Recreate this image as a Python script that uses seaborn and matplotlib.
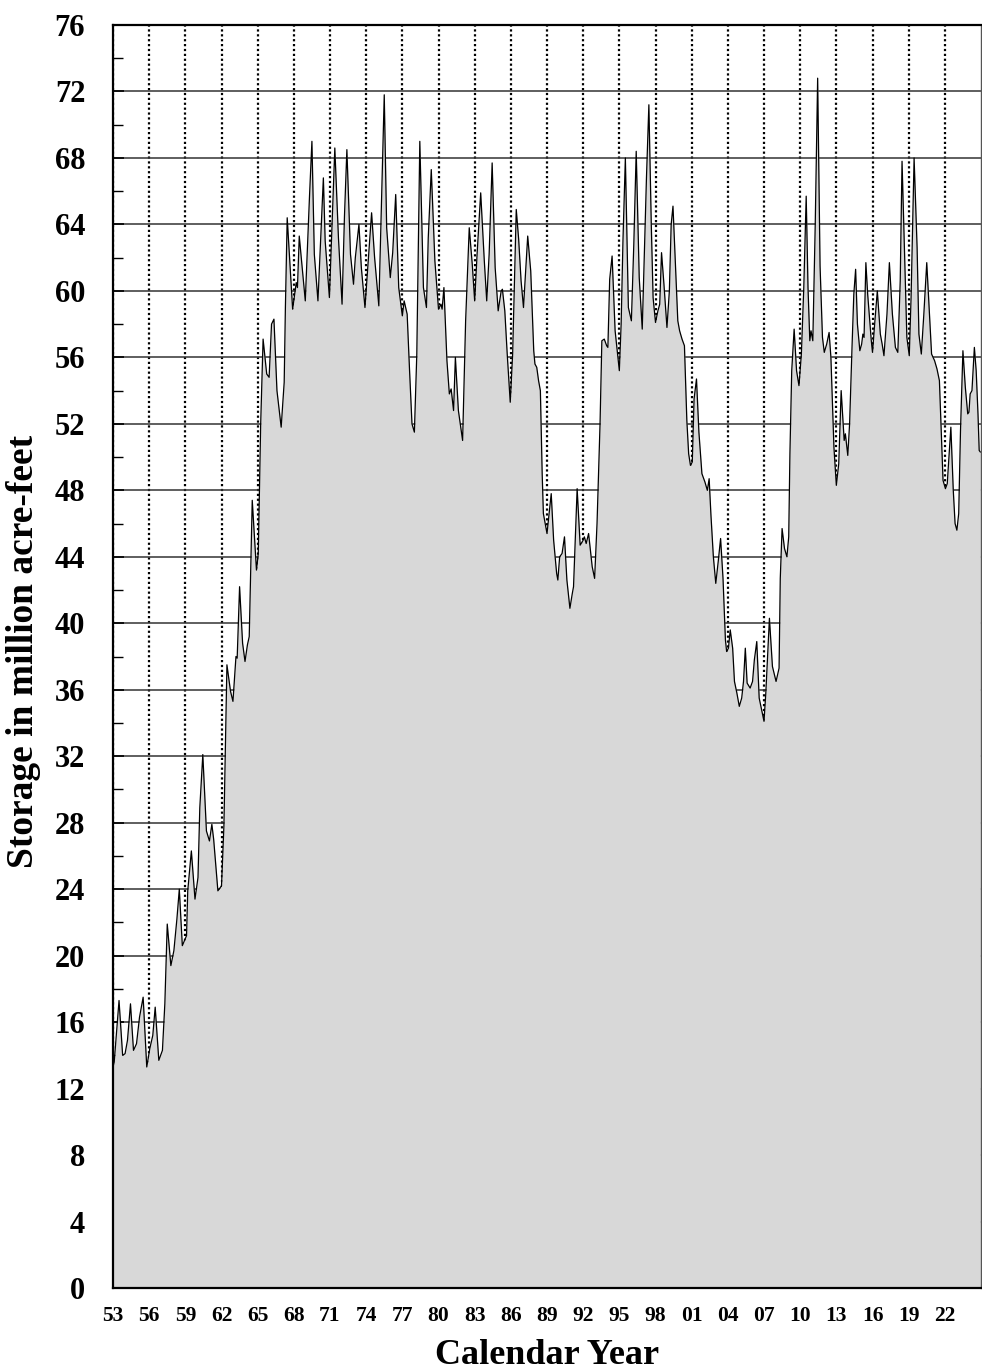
import numpy as np
import pandas as pd
import matplotlib
matplotlib.use('Agg')
import matplotlib.pyplot as plt
import matplotlib.ticker as mticker
import seaborn as sns

# storage readings (year as decimal, million acre-feet)
years = [1953.0, 1953.1, 1953.5, 1953.8, 1954.0, 1954.2, 1954.45, 1954.7, 1954.95, 1955.2,
         1955.5, 1955.8, 1956.05, 1956.3, 1956.5, 1956.8, 1957.1, 1957.3, 1957.5, 1957.8,
         1958.05, 1958.3, 1958.5, 1958.75, 1959.1, 1959.2, 1959.5, 1959.8, 1960.05, 1960.2,
         1960.45, 1960.75, 1961.0, 1961.2, 1961.35, 1961.7, 1962.0, 1962.2, 1962.45, 1962.75,
         1962.95, 1963.2, 1963.3, 1963.5, 1963.75, 1963.95, 1964.15, 1964.3, 1964.55, 1964.9,
         1965.05, 1965.25, 1965.45, 1965.75, 1965.95, 1966.15, 1966.35, 1966.6, 1966.95, 1967.2,
         1967.3, 1967.45, 1967.9, 1968.2, 1968.3, 1968.45, 1968.95, 1969.3, 1969.5, 1969.7,
         1970.0, 1970.45, 1970.6, 1970.95, 1971.4, 1971.7, 1972.0, 1972.2, 1972.4, 1972.7,
         1972.95, 1973.1, 1973.4, 1973.6, 1973.9, 1974.45, 1974.7, 1975.05, 1975.5, 1975.7,
         1976.0, 1976.2, 1976.45, 1976.7, 1977.0, 1977.15, 1977.4, 1977.6, 1977.8, 1978.0,
         1978.2, 1978.45, 1978.75, 1979.0, 1979.15, 1979.4, 1979.7, 1980.0, 1980.2, 1980.3,
         1980.45, 1980.7, 1980.9, 1981.05, 1981.25, 1981.4, 1981.65, 1982.0, 1982.25, 1982.55,
         1982.8, 1983.0, 1983.2, 1983.5, 1983.8, 1984.0, 1984.2, 1984.45, 1984.7, 1984.95,
         1985.2, 1985.3, 1985.5, 1985.7, 1985.95, 1986.15, 1986.45, 1986.65, 1986.85, 1987.05,
         1987.4, 1987.65, 1987.9, 1988.0, 1988.15, 1988.3, 1988.45, 1988.6, 1988.7, 1989.0,
         1989.35, 1989.55, 1989.8, 1989.9, 1990.05, 1990.25, 1990.45, 1990.65, 1990.9, 1991.1,
         1991.2, 1991.5, 1991.75, 1992.0, 1992.1, 1992.25, 1992.45, 1992.75, 1992.95, 1993.15,
         1993.4, 1993.55, 1993.75, 1993.95, 1994.05, 1994.2, 1994.4, 1994.65, 1995.0, 1995.15,
         1995.3, 1995.5, 1995.75, 1996.0, 1996.2, 1996.4, 1996.65, 1996.9, 1997.1, 1997.25,
         1997.45, 1997.65, 1997.8, 1998.0, 1998.2, 1998.35, 1998.5, 1998.7, 1998.95, 1999.15,
         1999.3, 1999.45, 1999.65, 1999.85, 2000.0, 2000.2, 2000.4, 2000.6, 2000.75, 2000.9,
         2001.05, 2001.2, 2001.4, 2001.6, 2001.85, 2002.1, 2002.3, 2002.45, 2002.6, 2002.8,
         2003.0, 2003.2, 2003.4, 2003.6, 2003.8, 2003.9, 2004.05, 2004.2, 2004.4, 2004.55,
         2004.75, 2004.95, 2005.15, 2005.3, 2005.45, 2005.6, 2005.85, 2006.05, 2006.2, 2006.4,
         2006.6, 2006.8, 2007.0, 2007.15, 2007.45, 2007.7, 2008.0, 2008.25, 2008.35, 2008.5,
         2008.7, 2008.9, 2009.05, 2009.15, 2009.3, 2009.5, 2009.7, 2009.9, 2010.1, 2010.3,
         2010.5, 2010.65, 2010.8, 2010.9, 2011.05, 2011.25, 2011.45, 2011.65, 2011.85, 2012.0,
         2012.2, 2012.4, 2012.55, 2012.8, 2013.0, 2013.2, 2013.4, 2013.65, 2013.75, 2013.95,
         2014.1, 2014.3, 2014.45, 2014.6, 2014.75, 2014.95, 2015.1, 2015.2, 2015.3, 2015.45,
         2015.6, 2015.9, 2016.0, 2016.2, 2016.4, 2016.65, 2016.8, 2016.95, 2017.2, 2017.4,
         2017.65, 2017.9, 2018.1, 2018.3, 2018.45, 2018.65, 2018.85, 2019.05, 2019.2, 2019.45,
         2019.7, 2019.85, 2020.05, 2020.25, 2020.5, 2020.7, 2020.9, 2021.15, 2021.35, 2021.55,
         2021.7, 2021.85, 2022.05, 2022.2, 2022.5, 2022.7, 2022.85, 2023.0, 2023.15, 2023.3,
         2023.5, 2023.7, 2023.9, 2024.0, 2024.1, 2024.25, 2024.45, 2024.6, 2024.75, 2024.85,
         2024.95]
storage = [13.3, 13.6, 17.3, 14.0, 14.1, 14.9, 17.1, 14.3, 14.7, 16.3,
           17.5, 13.3, 14.4, 15.2, 16.9, 13.7, 14.3, 17.1, 21.9, 19.4,
           20.3, 22.2, 24.0, 20.6, 21.2, 23.9, 26.3, 23.4, 24.7, 28.9,
           32.1, 27.5, 26.9, 27.9, 27.0, 23.9, 24.2, 27.8, 37.5, 35.9,
           35.3, 38.0, 37.9, 42.2, 38.8, 37.7, 38.7, 39.2, 47.4, 43.2,
           44.2, 52.0, 57.1, 55.0, 54.8, 58.0, 58.3, 54.0, 51.8, 54.5,
           59.0, 64.4, 58.9, 60.5, 60.2, 63.3, 59.4, 65.7, 69.0, 62.2,
           59.4, 66.8, 63.0, 59.6, 68.6, 63.2, 59.2, 64.5, 68.5, 62.2,
           60.4, 62.0, 64.0, 61.4, 59.0, 64.7, 62.0, 59.1, 71.8, 63.8,
           60.8, 62.3, 65.8, 60.2, 58.5, 59.4, 58.6, 55.2, 52.0, 51.5,
           56.2, 69.0, 60.2, 59.0, 63.2, 67.3, 61.8, 58.9, 59.2, 58.9,
           60.2, 55.8, 53.8, 54.1, 52.8, 56.0, 52.8, 51.0, 58.2, 63.8,
           61.6, 59.4, 62.2, 65.9, 61.8, 59.4, 62.2, 67.7, 61.4, 58.8,
           60.0, 60.1, 58.8, 56.2, 53.3, 56.2, 64.9, 63.1, 60.6, 59.0,
           63.3, 61.2, 56.4, 55.6, 55.4, 54.6, 54.0, 49.0, 46.6, 45.4,
           47.8, 45.0, 43.0, 42.6, 44.0, 44.2, 45.2, 42.6, 40.9, 41.8,
           42.2, 48.1, 44.7, 45.0, 45.2, 44.8, 45.4, 43.4, 42.7, 46.0,
           52.0, 57.0, 57.1, 56.7, 56.6, 60.7, 62.1, 57.6, 55.2, 58.0,
           63.0, 68.0, 59.0, 58.2, 62.8, 68.4, 60.8, 57.7, 63.0, 66.8,
           71.2, 64.0, 59.6, 58.1, 58.8, 59.2, 62.3, 60.4, 57.8, 60.0,
           64.0, 65.1, 61.6, 58.2, 57.6, 57.1, 56.7, 52.2, 50.2, 49.5,
           49.7, 53.5, 54.7, 51.5, 49.0, 48.5, 48.0, 48.7, 46.5, 44.0,
           42.4, 43.7, 45.1, 42.7, 39.0, 38.3, 38.5, 39.6, 38.5, 36.5,
           35.8, 35.0, 35.5, 36.5, 38.5, 36.4, 36.1, 36.5, 37.8, 38.9,
           35.5, 34.8, 34.1, 35.8, 40.3, 37.4, 36.5, 37.3, 42.7, 45.7,
           44.5, 44.0, 45.2, 50.2, 55.2, 57.7, 55.2, 54.3, 56.2, 60.2,
           65.7, 60.2, 57.0, 57.6, 57.0, 64.0, 72.8, 61.5, 57.2, 56.3,
           56.8, 57.5, 56.0, 50.6, 48.3, 49.6, 54.0, 51.0, 51.4, 50.1,
           52.0, 56.6, 59.8, 61.3, 58.0, 56.4, 56.8, 57.4, 57.2, 61.7,
           59.8, 57.0, 56.3, 58.2, 60.0, 57.4, 56.8, 56.1, 58.6, 61.7,
           58.6, 56.6, 56.3, 60.6, 67.8, 62.6, 57.2, 56.1, 59.6, 68.0,
           62.6, 57.4, 56.2, 58.5, 61.7, 59.0, 56.2, 55.8, 55.3, 54.6,
           51.6, 48.6, 48.1, 48.4, 51.8, 48.0, 46.0, 45.6, 46.6, 51.6,
           56.4, 54.2, 52.6, 52.7, 53.8, 54.0, 56.6, 55.2, 52.6, 50.4,
           50.3]

xtick_years = list(range(1953, 2023, 3))
xtick_labels = ['53', '56', '59', '62', '65', '68', '71', '74', '77', '80', '83', '86',
                '89', '92', '95', '98', '01', '04', '07', '10', '13', '16', '19', '22']
ytick_values = list(range(0, 77, 4))

df = pd.DataFrame({'year': years, 'storage': storage})

sns.set_style('white')
plt.rcParams['font.family'] = ['Liberation Serif', 'DejaVu Serif']
plt.rcParams['font.weight'] = 'bold'
plt.rcParams['text.color'] = 'black'
plt.rcParams['axes.labelcolor'] = 'black'
plt.rcParams['xtick.color'] = 'black'
plt.rcParams['ytick.color'] = 'black'

fig = plt.figure(figsize=(9.82, 13.72), dpi=100)
ax = fig.add_axes([113/982, 1-1288/1372, (981-113)/982, (1288-25)/1372])

ax.fill_between(df.year, df.storage, 0, color='#d8d8d8', zorder=1, linewidth=0)
sns.lineplot(data=df, x='year', y='storage', ax=ax, color='black', linewidth=0.9,
             sort=False, estimator=None, zorder=2)

ax.set_xlim(1953, 2025)
ax.set_ylim(0, 76)

ax.set_xticks(xtick_years)
ax.set_xticklabels(xtick_labels, fontsize=15.5, fontweight='bold', color='black')
ax.xaxis.set_minor_locator(mticker.MultipleLocator(1))
ax.set_yticks(ytick_values)
ax.set_yticklabels([str(v) for v in ytick_values], fontsize=22, fontweight='bold', color='black')
ax.yaxis.set_minor_locator(mticker.MultipleLocator(2))

ax.tick_params(axis='x', which='major', direction='in', length=5, width=1.2, pad=13, bottom=True)
ax.tick_params(axis='x', which='minor', direction='in', length=3, width=1.0, bottom=True)
ax.tick_params(axis='y', which='major', direction='in', length=8, width=1.2, pad=20, left=True)
ax.tick_params(axis='y', which='minor', direction='in', length=7, width=1.0, left=True)

ax.set_axisbelow(True)
ax.yaxis.grid(True, which='major', color='#333333', linewidth=1.1, linestyle='-')
ax.xaxis.grid(True, which='major', color='black', linewidth=1.6, linestyle=(0, (1, 1.2)))

for side in ['left', 'bottom', 'top']:
    ax.spines[side].set_visible(True)
    ax.spines[side].set_color('black')
    ax.spines[side].set_linewidth(1.6)
ax.spines['right'].set_color('#555555')
ax.spines['right'].set_linewidth(1.0)

ax.set_xlabel('')
ax.set_ylabel('')
fig.text(547/982, 1-1356/1372, 'Calendar Year', ha='center', va='center',
         fontsize=26, fontweight='bold', color='black')
fig.text(24/982, 1-651/1372, 'Storage in million acre-feet', ha='center', va='center',
         rotation=90, fontsize=27, fontweight='bold', color='black')

fig.savefig('out.png', dpi=100)
